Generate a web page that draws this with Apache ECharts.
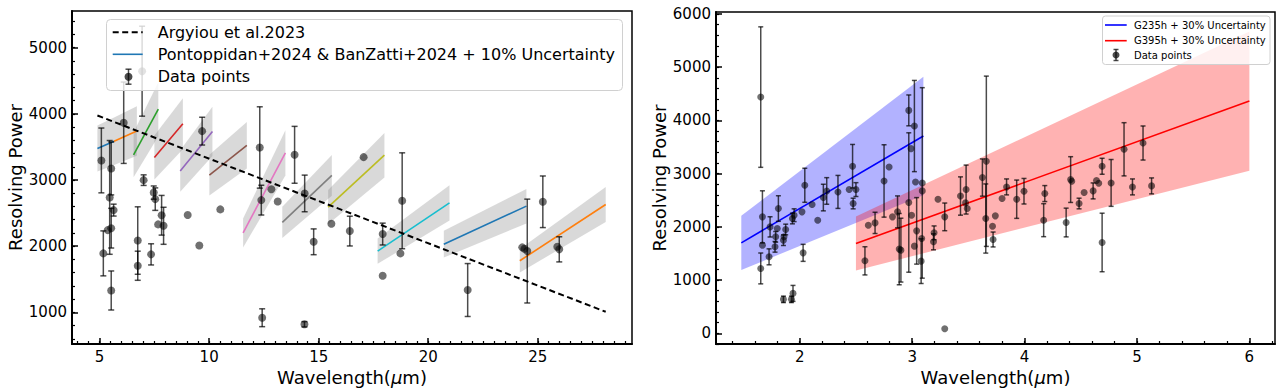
<!DOCTYPE html>
<html>
<head>
<meta charset="utf-8">
<script src="https://cdn.jsdelivr.net/npm/echarts/dist/echarts.min.js"></script>
<style>html,body{margin:0;padding:0;background:#fff;}#c{width:1283px;height:392px;}</style>
</head>
<body>
<div id="c"></div>
<script>
// ---------------- DATA ----------------
// Left panel: MIRI MRS
const argyiouX = [4.9, 28.1];
const argyiouR = [3975, 1008];
const segStart = [4.90, 5.66, 6.55, 7.50, 8.68, 10.01, 11.55, 13.34, 15.43, 17.69, 20.71, 24.18];
const segEnd   = [5.66, 6.70, 7.68, 8.80, 10.15, 11.72, 13.48, 15.60, 18.00, 20.97, 24.48, 28.10];
const segR0    = [3477, 3585, 3380, 3340, 3135, 3075, 2200, 2360, 2590, 1925, 2030, 1780];
const segR1    = [3585, 3740, 4070, 3850, 3735, 3525, 3410, 3070, 3375, 2655, 2605, 2630];
const leftUnc = 0.10;
const leftX = [5.08, 5.17, 5.37, 5.46, 5.53, 5.53, 5.53, 5.64, 6.10, 6.94,
  6.74, 6.74, 7.01, 7.35, 7.47, 7.54, 7.67, 7.83, 7.92, 9.02,
  9.55, 9.68, 10.51, 12.31, 12.38, 12.42, 12.84, 13.13, 13.90, 14.35,
  14.36, 14.77, 15.58, 16.42, 17.05, 17.92, 17.92, 18.73, 18.81, 21.80,
  24.29, 24.39, 24.52, 25.23, 25.89, 25.98];
const leftR = [3296, 1891, 2243, 2737, 3175, 2272, 1330, 2545, 3866, 4645,
  2085, 1704, 2998, 1876, 2810, 2711, 2329, 2467, 2308, 2470,
  2010, 3739, 2556, 3492, 2696, 918, 2860, 2675, 3381, 819,
  2797, 2066, 2340, 2228, 3346, 2183, 1553, 1891, 2686, 1337,
  1982, 1961, 1926, 2671, 1991, 1952];
const leftErr = [490, 340, 0, 860, 400, 300, 295, 90, 615, 680,
  510, 220, 80, 160, 100, 170, 0, 300, 280, 0,
  0, 210, 0, 615, 225, 135, 0, 0, 430, 40,
  277, 195, 0, 225, 0, 165, 0, 0, 725, 400,
  0, 0, 785, 390, 0, 190];
const leftXTicks = [5, 10, 15, 20, 25];
const leftYTicks = [1000, 2000, 3000, 4000, 5000];

// Right panel: NIRSpec
const g235X = [1.48, 3.10];
const g235R = [1700, 3707];
const g395X = [2.50, 6.00];
const g395R = [1689, 4364];
const rightUnc = 0.30;
const rightX = [1.653,1.668,1.668,1.653,1.727,1.736,1.78,1.786,1.80,1.81,
  1.855,1.86,1.875,1.855,1.926,1.94,1.935,1.95,2.02,2.03,
  2.045,2.11,2.16,2.21,2.24,2.34,2.44,2.47,2.475,2.50,
  2.75,2.795,2.97,2.97,2.99,3.02,3.03,3.09,3.09,3.085,
  3.08,2.995,3.02,3.04,
  2.58,2.61,2.67,2.825,2.87,2.885,2.90,3.195,3.19,3.23,
  3.29,3.29,3.43,3.48,3.475,3.49,3.625,3.66,3.655,3.715,
  3.72,3.74,3.80,3.84,3.93,3.995,4.17,4.18,4.37,4.41,
  4.42,4.485,4.53,4.61,4.64,4.66,4.69,4.69,4.77,4.885,
  4.96,5.054,5.13];
const rightR = [4439,2188,1657,1219,1437,2000,1625,1813,1970,2345,
  1750,1813,1951,638,638,750,2157,2219,2282,1512,
  2782,2420,2126,2551,2675,2657,2701,3139,2439,2701,
  2863,3126,4189,2458,3471,3895,2844,2826,2676,1782,
  1356,2219,1638,1925,
  1362,2032,2075,2188,2282,1582,1563,1888,1719,2520,
  2188,84,2580,2701,2451,2345,2927,3233,2157,2013,
  1763,2207,2533,2751,2520,2670,2126,2626,2082,2889,
  2857,2439,2645,2676,2870,2820,3139,1707,2826,3458,
  2751,3576,2770];
const rightErr = [1320,490,0,290,150,190,100,100,0,240,
  100,0,100,60,60,150,100,120,0,160,
  320,0,0,250,250,310,0,410,100,130,
  680,0,290,1310,0,857,0,1790,0,0,
  420,0,0,625,
  265,0,200,0,300,670,600,130,150,0,
  260,0,360,460,0,0,350,1600,650,0,
  140,0,0,150,360,240,310,150,270,430,
  0,100,0,150,0,0,150,550,440,500,
  150,320,150];
const rightXTicks = [2, 3, 4, 5, 6];
const rightYTicks = [0, 1000, 2000, 3000, 4000, 5000, 6000];

// ---------------- STYLE ----------------
const FONT = '"DejaVu Sans", sans-serif';
const segColors = ['#1f77b4','#ff7f0e','#2ca02c','#d62728','#9467bd','#8c564b','#e377c2','#7f7f7f','#bcbd22','#17becf','#1f77b4','#ff7f0e'];
const ptColor = 'rgba(0,0,0,0.7)';

function steps(a, b, s) {
  const out = [];
  const n = Math.round((b - a) / s);
  for (let i = 0; i <= n; i++) out.push(Math.round((a + i * s) * 1000) / 1000);
  return out;
}

function axesPair(dir, grid, min, max, major, minor, name, gap) {
  const main = {
    type: 'value', gridIndex: grid, min: min, max: max,
    position: dir === 'x' ? 'bottom' : 'left',
    axisLine: { show: true, onZero: false, lineStyle: { color: '#000', width: 2 } },
    axisTick: { show: true, inside: true, length: 6, lineStyle: { color: '#000', width: 1.5 }, customValues: major },
    axisLabel: { show: true, customValues: major, fontSize: 15, color: '#000', fontFamily: FONT, margin: 5,
      formatter: function (v) { return String(v); } },
    splitLine: { show: false },
    name: name, nameLocation: 'middle', nameGap: gap,
    nameTextStyle: { fontSize: 18, color: '#000', fontFamily: FONT,
      rich: { i: { fontSize: 18, fontStyle: 'italic', fontFamily: FONT, color: '#000' } } }
  };
  const minorAx = {
    type: 'value', gridIndex: grid, min: min, max: max,
    position: dir === 'x' ? 'bottom' : 'left',
    axisLine: { show: false, onZero: false },
    axisTick: { show: true, inside: true, length: 3, lineStyle: { color: '#000', width: 1.2 }, customValues: minor },
    axisLabel: { show: false },
    splitLine: { show: false }
  };
  return [main, minorAx];
}

const xAxes = [].concat(
  axesPair('x', 0, 3.74, 29.3, leftXTicks, steps(4, 29, 0.5), 'Wavelength({i|μ}m)', 19),
  axesPair('x', 1, 1.255, 6.228, rightXTicks, steps(1.4, 6.2, 0.2), 'Wavelength({i|μ}m)', 19)
);
const yAxes = [].concat(
  axesPair('y', 0, 521, 5555, leftYTicks, steps(600, 5400, 200), 'Resolving Power', 47),
  axesPair('y', 1, -201, 6038, rightYTicks, steps(-200, 6000, 200), 'Resolving Power', 47)
);

function bandRender(unc, fill) {
  return function (params, api) {
    const x0 = api.value(0), x1 = api.value(1), r0 = api.value(2), r1 = api.value(3);
    const pts = [api.coord([x0, r0 * (1 + unc)]), api.coord([x1, r1 * (1 + unc)]),
                 api.coord([x1, r1 * (1 - unc)]), api.coord([x0, r0 * (1 - unc)])];
    return { type: 'polygon', shape: { points: pts }, style: { fill: fill, stroke: null } };
  };
}
function segRender(params, api) {
  const a = api.coord([api.value(0), api.value(2)]);
  const b = api.coord([api.value(1), api.value(3)]);
  return { type: 'line', shape: { x1: a[0], y1: a[1], x2: b[0], y2: b[1] },
           style: { stroke: segColors[params.dataIndex], lineWidth: 1.6 } };
}
function errRender(cap) {
  return function (params, api) {
    const x = api.value(0), y = api.value(1), e = api.value(2);
    if (!e) return { type: 'group', children: [] };
    const t = api.coord([x, y + e]), b = api.coord([x, y - e]);
    const st = { stroke: ptColor, lineWidth: 1.5 };
    return { type: 'group', children: [
      { type: 'line', shape: { x1: t[0], y1: t[1], x2: b[0], y2: b[1] }, style: st },
      { type: 'line', shape: { x1: t[0] - cap, y1: t[1], x2: t[0] + cap, y2: t[1] }, style: st },
      { type: 'line', shape: { x1: b[0] - cap, y1: b[1], x2: b[0] + cap, y2: b[1] }, style: st }
    ] };
  };
}

const segData = segStart.map((s, i) => [s, segEnd[i], segR0[i], segR1[i]]);
const leftPts = leftX.map((x, i) => [x, leftR[i], leftErr[i]]);
const rightPts = rightX.map((x, i) => [x, rightR[i], rightErr[i]]);

const series = [
  { type: 'custom', xAxisIndex: 0, yAxisIndex: 0, z: 1, renderItem: bandRender(leftUnc, 'rgba(128,128,128,0.3)'),
    data: segData, encode: { x: [0, 1], y: [2, 3] }, silent: true },
  { type: 'custom', xAxisIndex: 0, yAxisIndex: 0, z: 2, renderItem: segRender,
    data: segData, encode: { x: [0, 1], y: [2, 3] }, silent: true },
  { type: 'line', xAxisIndex: 0, yAxisIndex: 0, z: 3, symbol: 'none',
    data: argyiouX.map((x, i) => [x, argyiouR[i]]),
    lineStyle: { color: '#000', width: 2, type: [6, 3.5] } },
  { type: 'custom', xAxisIndex: 0, yAxisIndex: 0, z: 4, renderItem: errRender(3),
    data: leftPts, encode: { x: 0, y: 1 }, silent: true },
  { type: 'scatter', xAxisIndex: 0, yAxisIndex: 0, z: 5, symbol: 'circle', symbolSize: 8,
    data: leftPts.map(p => [p[0], p[1]]), itemStyle: { color: ptColor } },

  { type: 'custom', xAxisIndex: 2, yAxisIndex: 2, z: 1, renderItem: bandRender(rightUnc, 'rgba(0,0,255,0.3)'),
    data: [[g235X[0], g235X[1], g235R[0], g235R[1]]], encode: { x: [0, 1], y: [2, 3] }, silent: true },
  { type: 'custom', xAxisIndex: 2, yAxisIndex: 2, z: 1, renderItem: bandRender(rightUnc, 'rgba(255,0,0,0.3)'),
    data: [[g395X[0], g395X[1], g395R[0], g395R[1]]], encode: { x: [0, 1], y: [2, 3] }, silent: true },
  { type: 'line', xAxisIndex: 2, yAxisIndex: 2, z: 2, symbol: 'none',
    data: g235X.map((x, i) => [x, g235R[i]]), lineStyle: { color: '#0000ff', width: 1.6 } },
  { type: 'line', xAxisIndex: 2, yAxisIndex: 2, z: 2, symbol: 'none',
    data: g395X.map((x, i) => [x, g395R[i]]), lineStyle: { color: '#ff0000', width: 1.6 } },
  { type: 'custom', xAxisIndex: 2, yAxisIndex: 2, z: 4, renderItem: errRender(2.5),
    data: rightPts, encode: { x: 0, y: 1 }, silent: true },
  { type: 'scatter', xAxisIndex: 2, yAxisIndex: 2, z: 5, symbol: 'circle', symbolSize: 7,
    data: rightPts.map(p => [p[0], p[1]]), itemStyle: { color: ptColor } }
];

function txt(x, y, s, size) {
  return { type: 'text', x: x, y: y, z: 101,
    style: { text: s, font: size + 'px ' + FONT, fill: '#000',
      textAlign: 'left', textVerticalAlign: 'middle', align: 'left', verticalAlign: 'middle' } };
}
function ebIcon(cx, cy, h, cap, r) {
  const st = { stroke: ptColor, lineWidth: 1.5 };
  return [
    { type: 'line', z: 101, shape: { x1: cx, y1: cy - h, x2: cx, y2: cy + h }, style: st },
    { type: 'line', z: 101, shape: { x1: cx - cap, y1: cy - h, x2: cx + cap, y2: cy - h }, style: st },
    { type: 'line', z: 101, shape: { x1: cx - cap, y1: cy + h, x2: cx + cap, y2: cy + h }, style: st },
    { type: 'circle', z: 101, shape: { cx: cx, cy: cy, r: r }, style: { fill: ptColor } }
  ];
}

const graphics = [].concat(
  [{ type: 'rect', z: 100, shape: { x: 106.5, y: 19.5, width: 516, height: 71, r: 4 },
     style: { fill: 'rgba(255,255,255,0.8)', stroke: '#d0d0d0', lineWidth: 1 } },
   { type: 'line', z: 101, shape: { x1: 112.7, y1: 32.3, x2: 142.7, y2: 32.3 },
     style: { stroke: '#000', lineWidth: 2, lineDash: [6, 3.5] } },
   { type: 'line', z: 101, shape: { x1: 112.7, y1: 54.3, x2: 142.7, y2: 54.3 },
     style: { stroke: '#1f77b4', lineWidth: 1.6 } },
   txt(157.7, 32.3, 'Argyiou et al.2023', 16),
   txt(157.7, 54.3, 'Pontoppidan+2024 & BanZatti+2024 + 10% Uncertainty', 16),
   txt(157.7, 76.7, 'Data points', 16)],
  ebIcon(128.5, 76.7, 7.5, 3, 4),
  [{ type: 'rect', z: 100, shape: { x: 1102.5, y: 16, width: 167.5, height: 48.5, r: 3 },
     style: { fill: 'rgba(255,255,255,0.8)', stroke: '#d0d0d0', lineWidth: 1 } },
   { type: 'line', z: 101, shape: { x1: 1105, y1: 25, x2: 1126.7, y2: 25 },
     style: { stroke: '#0000ff', lineWidth: 1.6 } },
   { type: 'line', z: 101, shape: { x1: 1105, y1: 40.7, x2: 1126.7, y2: 40.7 },
     style: { stroke: '#ff0000', lineWidth: 1.6 } },
   txt(1134, 25, 'G235h + 30% Uncertainty', 10),
   txt(1134, 40.7, 'G395h + 30% Uncertainty', 10),
   txt(1134, 55, 'Data points', 10)],
  ebIcon(1116, 55, 5.5, 2.5, 3.5)
);

const chart = echarts.init(document.getElementById('c'), null, { renderer: 'svg', width: 1283, height: 392 });
chart.setOption({
  animation: false,
  backgroundColor: '#fff',
  textStyle: { fontFamily: FONT },
  grid: [
    { left: 72, right: 651, top: 11, bottom: 48, show: true, borderColor: '#000', borderWidth: 1.5, backgroundColor: 'transparent' },
    { left: 716, right: 8, top: 12, bottom: 48, show: true, borderColor: '#000', borderWidth: 1.5, backgroundColor: 'transparent' }
  ],
  xAxis: xAxes,
  yAxis: yAxes,
  series: series,
  graphic: { elements: graphics }
});
</script>
</body>
</html>
